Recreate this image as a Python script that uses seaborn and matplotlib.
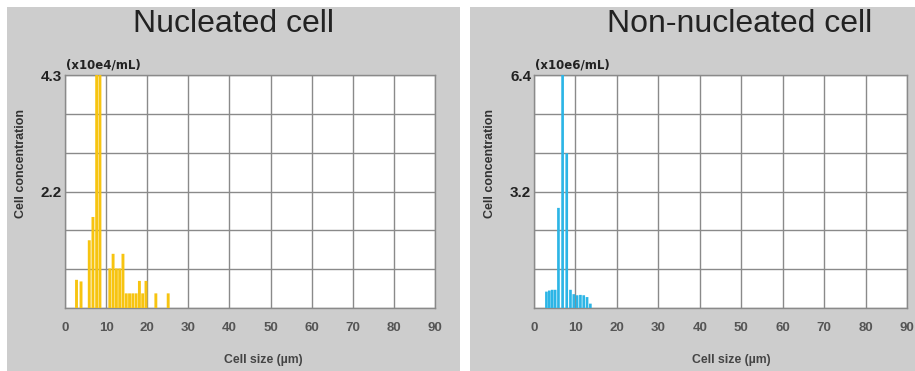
import numpy as np
import matplotlib
matplotlib.use("Agg")
import matplotlib.pyplot as plt
import seaborn as sns

# ---------------- data ----------------
nuc_size = [2.8, 3.9, 5.9, 6.8, 7.7, 8.5, 10.9, 11.7, 12.5, 13.3, 14.1,
            14.9, 15.7, 16.5, 17.3, 18.1, 18.9, 19.7, 22.1, 25.1]
nuc_conc = [0.52, 0.49, 1.25, 1.68, 4.3, 4.3, 0.73, 1.0, 0.73, 0.73, 1.0,
            0.27, 0.27, 0.27, 0.27, 0.5, 0.27, 0.5, 0.27, 0.27]

non_size = [3.0, 3.7, 4.4, 5.1, 5.9, 6.9, 7.9, 8.8, 9.6, 10.4, 11.2,
            12.0, 12.8, 13.6]
non_conc = [0.45, 0.48, 0.5, 0.5, 2.75, 6.4, 4.25, 0.5, 0.38, 0.35, 0.36,
            0.35, 0.3, 0.12]

x_ticks = [0, 10, 20, 30, 40, 50, 60, 70, 80, 90]
panels = [
    dict(title="Nucleated cell", unit="(x10e4/mL)", ymax=4.3, ymid="2.2",
         x=nuc_size, y=nuc_conc, color="#F7C410", width=0.88),
    dict(title="Non-nucleated cell", unit="(x10e6/mL)", ymax=6.4, ymid="3.2",
         x=non_size, y=non_conc, color="#2CB5E6", width=0.92),
]

W, H = 915, 371
fig = plt.figure(figsize=(W / 100, H / 100), dpi=100, facecolor="white")
plt.rcParams["font.family"] = ["Liberation Sans", "DejaVu Sans"]

# grey panel backgrounds (pixel boxes: x0, y0, x1, y1 from top-left)
for x0, y0, x1, y1 in [(7, 7, 460, 371), (470, 7, 915, 371)]:
    bg = fig.add_axes([x0 / W, 1 - y1 / H, (x1 - x0) / W, (y1 - y0) / H])
    bg.set_facecolor("#CDCDCD")
    bg.set_xticks([])
    bg.set_yticks([])
    for s in bg.spines.values():
        s.set_visible(False)

axes_px = [(65, 75, 435, 308), (534, 75, 907, 308)]
title_x = [233, 740]
xlabel_x = [263, 731]

for p, (x0, y0, x1, y1), tx, lx in zip(panels, axes_px, title_x, xlabel_x):
    ax = fig.add_axes([x0 / W, 1 - y1 / H, (x1 - x0) / W, (y1 - y0) / H])
    ax.set_facecolor("white")
    sns.barplot(x=p["x"], y=p["y"], native_scale=True, color=p["color"],
                saturation=1, width=p["width"], errorbar=None, ax=ax,
                edgecolor="none", zorder=3)
    for bar in ax.patches:
        bar.set_snap(False)
    ax.set_xlim(0, 90)
    ax.set_ylim(0, p["ymax"])
    ax.set_xticks(x_ticks)
    ax.set_xticklabels([str(t) for t in x_ticks], color="#555555",
                       fontsize=9.5, fontweight="bold")
    yt = np.linspace(0, p["ymax"], 7)
    ax.set_yticks(yt)
    labels = [""] * 7
    labels[3] = p["ymid"]
    labels[6] = f'{p["ymax"]:.1f}'
    ax.set_yticklabels(labels, fontsize=11, fontweight="bold", color="#222222")
    ax.tick_params(length=0, pad=2)
    ax.tick_params(axis="x", pad=10)
    ax.grid(True, color="#8A8A8A", linewidth=1.0, zorder=1)
    ax.set_axisbelow(True)
    for s in ax.spines.values():
        s.set_color("#8A8A8A")
        s.set_linewidth(1.0)
    ax.set_xlabel("")
    ax.set_ylabel("")

    fig.text(tx / W, 1 - 24 / H, p["title"], ha="center", va="center",
             fontsize=23, color="#222222")
    fig.text((x0 + 1) / W, 1 - 65 / H, p["unit"], ha="left", va="center",
             fontsize=8.5, fontweight="bold", color="#222222",
             family=["DejaVu Sans"])
    fig.text(lx / W, 1 - 360 / H, "Cell size (µm)", ha="center", va="center",
             fontsize=8.8, fontweight="bold", color="#444444")
    fig.text((x0 - 44) / W, 1 - 163 / H, "Cell concentration", ha="center",
             va="center", rotation=90, fontsize=9, fontweight="bold",
             color="#333333")

fig.savefig("out.png", dpi=100, facecolor="white")
